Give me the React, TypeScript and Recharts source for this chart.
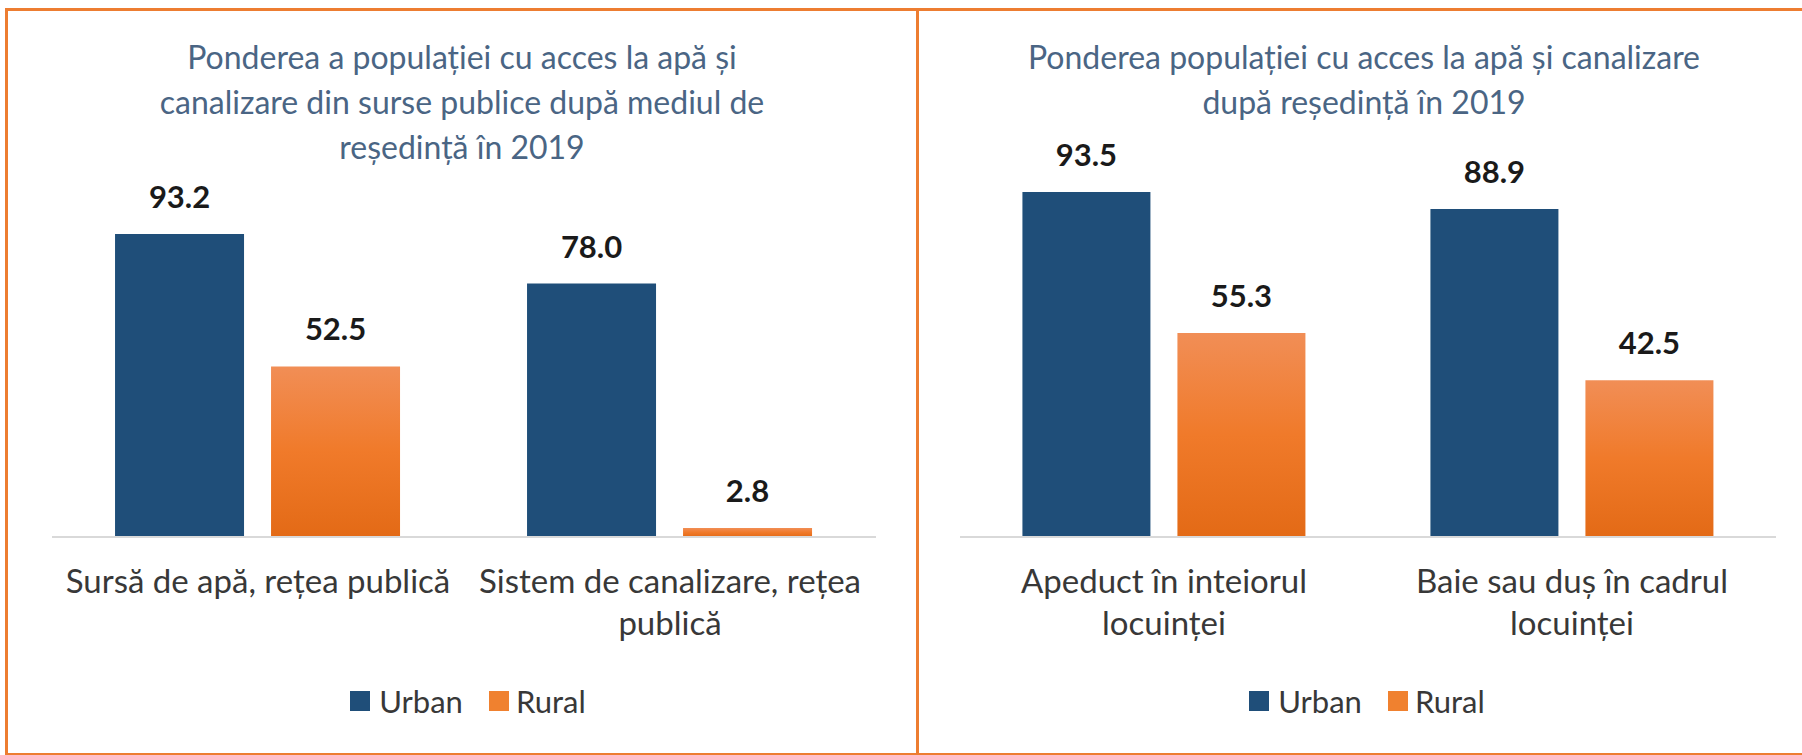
import { BarChart, Bar, XAxis, YAxis, LabelList } from 'recharts';

// category names keep the line break used in the original axis labels
const leftCategories = ['Sursă de apă, rețea publică', 'Sistem de canalizare, rețea\npublică'];
const leftUrban = [93.2, 78.0];
const leftRural = [52.5, 2.8];

const rightCategories = ['Apeduct în inteiorul\nlocuinței', 'Baie sau duș în cadrul\nlocuinței'];
const rightUrban = [93.5, 88.9];
const rightRural = [55.3, 42.5];

const leftTitle = ['Ponderea a populației cu acces la apă și', 'canalizare din surse publice după mediul de', 'reședință în 2019'];
const rightTitle = ['Ponderea populației cu acces la apă și canalizare', 'după reședință în 2019'];

const FONT = 'Lato, "Open Sans", sans-serif';
const URBAN = '#1F4E79';
const ORANGE = '#ED7D31';
const TEXT = '#383838';
const TITLE = '#4A6584';

const buildData = (cats: string[], urban: number[], rural: number[]) =>
  cats.map((c, i) => ({ category: c, Urban: urban[i], Rural: rural[i] }));

const WrapTick = ({ x, y, payload }: any) => {
  const lines = String(payload.value).split('\n');
  return (
    <text x={x} y={y + 56} textAnchor="middle" fill={TEXT} style={{ fontFamily: FONT, fontSize: 33 }}>
      {lines.map((l, i) => (
        <tspan key={i} x={x} dy={i === 0 ? 0 : 42}>
          {l}
        </tspan>
      ))}
    </text>
  );
};

const formatVal = (v: any) => Number(v).toFixed(1);

interface PanelProps {
  id: string;
  data: { category: string; Urban: number; Rural: number }[];
  width: number;
  height: number;
  margin: { top: number; right: number; bottom: number; left: number };
}

function Panel({ id, data, width, height, margin }: PanelProps) {
  return (
    <BarChart width={width} height={height} data={data} margin={margin} barCategoryGap="15.3%" barGap={27}>
      <defs>
        <linearGradient id={`rural-${id}`} x1="0" y1="0" x2="0" y2="1">
          <stop offset="0%" stopColor="#F18E56" />
          <stop offset="50%" stopColor="#F07A2A" />
          <stop offset="100%" stopColor="#E36A16" />
        </linearGradient>
      </defs>
      <XAxis
        dataKey="category"
        axisLine={{ stroke: '#D9D9D9', strokeWidth: 2 }}
        tickLine={false}
        tickSize={0}
        tickMargin={0}
        height={100}
        interval={0}
        tick={<WrapTick />}
      />
      <YAxis hide domain={[0, 100]} />
      <Bar dataKey="Urban" fill={URBAN} isAnimationActive={false}>
        <LabelList
          dataKey="Urban"
          position="top"
          offset={26}
          formatter={formatVal}
          style={{ fontFamily: FONT, fontSize: 31, fontWeight: 700, fill: '#1A1A1A' }}
        />
      </Bar>
      <Bar dataKey="Rural" fill={`url(#rural-${id})`} isAnimationActive={false}>
        <LabelList
          dataKey="Rural"
          position="top"
          offset={26}
          formatter={formatVal}
          style={{ fontFamily: FONT, fontSize: 31, fontWeight: 700, fill: '#1A1A1A' }}
        />
      </Bar>
    </BarChart>
  );
}

const Legend = ({ centerX }: { centerX: number }) => (
  <div
    style={{
      position: 'absolute',
      left: centerX - 200,
      width: 400,
      top: 682,
      display: 'flex',
      justifyContent: 'center',
      alignItems: 'center',
      fontFamily: FONT,
      fontSize: 31,
      color: TEXT,
    }}
  >
    <span style={{ width: 20, height: 20, background: URBAN, display: 'inline-block', marginRight: 9 }} />
    <span style={{ marginRight: 26 }}>Urban</span>
    <span style={{ width: 20, height: 20, background: '#F0812F', display: 'inline-block', marginRight: 7 }} />
    <span>Rural</span>
  </div>
);

const Title = ({ lines, centerX, top }: { lines: string[]; centerX: number; top: number }) => (
  <div
    style={{
      position: 'absolute',
      left: centerX - 420,
      width: 840,
      top,
      textAlign: 'center',
      fontFamily: FONT,
      fontSize: 32,
      lineHeight: '45px',
      color: TITLE,
    }}
  >
    {lines.map((l) => (
      <div key={l}>{l}</div>
    ))}
  </div>
);

export default function App() {
  const leftData = buildData(leftCategories, leftUrban, leftRural);
  const rightData = buildData(rightCategories, rightUrban, rightRural);
  return (
    <div style={{ position: 'absolute', left: 0, top: 0, width: 1802, height: 755, background: '#fff', overflow: 'hidden' }}>
      <div
        style={{
          position: 'absolute',
          left: 5,
          top: 8,
          width: 908,
          height: 742,
          border: `3px solid ${ORANGE}`,
        }}
      />
      <div
        style={{
          position: 'absolute',
          left: 916,
          top: 8,
          width: 900,
          height: 742,
          borderLeft: `3px solid ${ORANGE}`,
          borderTop: `3px solid ${ORANGE}`,
          borderBottom: `3px solid ${ORANGE}`,
        }}
      />
      <Title lines={leftTitle} centerX={462} top={34} />
      <Title lines={rightTitle} centerX={1364} top={34} />
      <div style={{ position: 'absolute', left: 0, top: 0 }}>
        <Panel id="left" data={leftData} width={916} height={755} margin={{ top: 212, right: 40, bottom: 118, left: 52 }} />
      </div>
      <div style={{ position: 'absolute', left: 916, top: 0 }}>
        <Panel id="right" data={rightData} width={886} height={755} margin={{ top: 168, right: 26, bottom: 118, left: 44 }} />
      </div>
      <Legend centerX={468} />
      <Legend centerX={1367} />
    </div>
  );
}
